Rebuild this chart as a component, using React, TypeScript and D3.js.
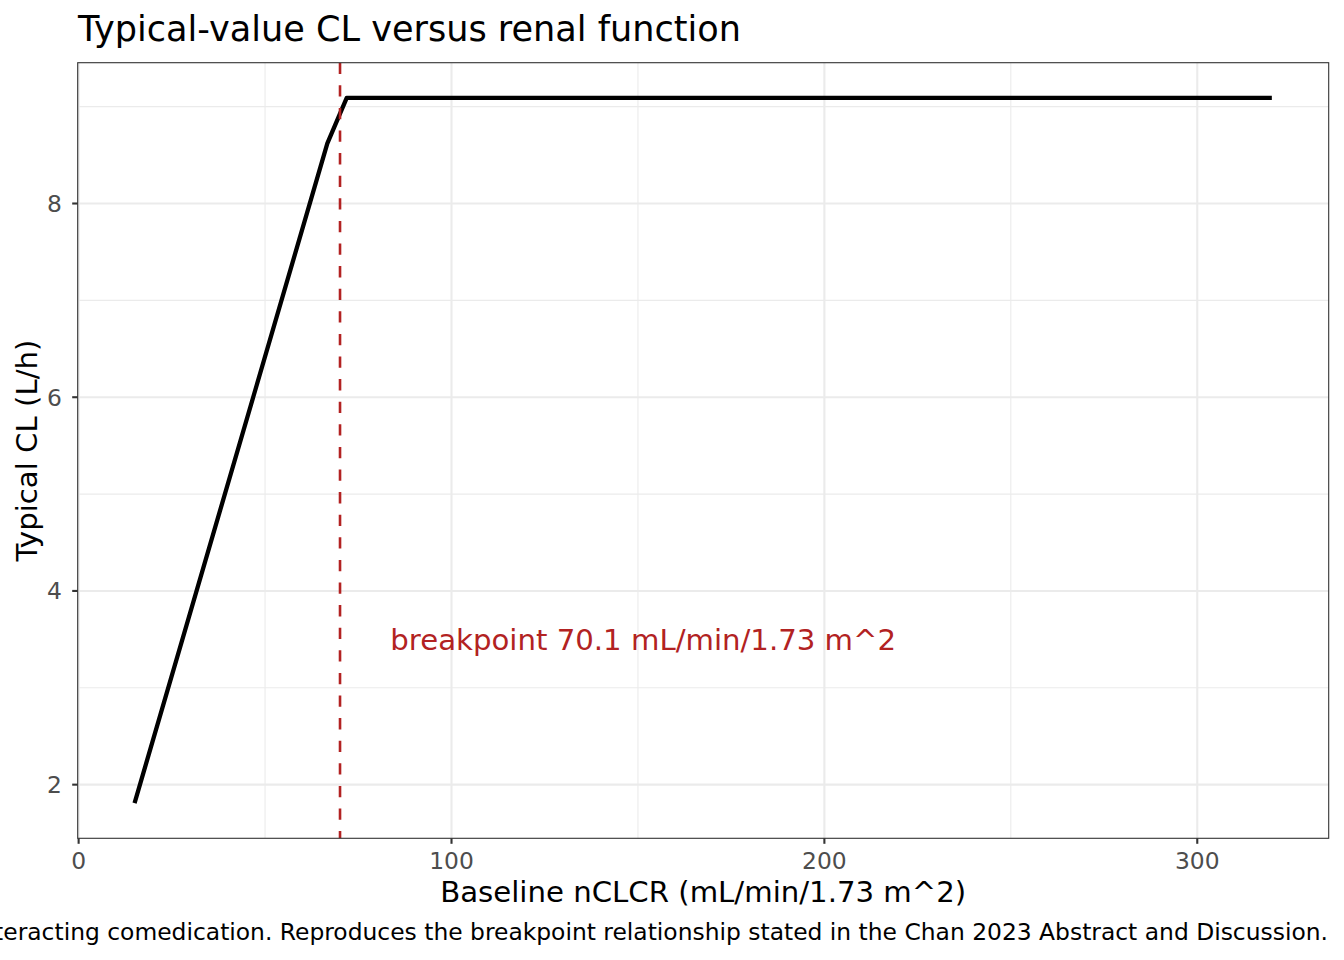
import React from "react";
import * as d3 from "d3";

const clcr = [15, 66.7, 71.9, 320];
const typicalCL = [1.81, 8.62, 9.09, 9.09];
const breakpoint = 70.1;
const xTicks = [0, 100, 200, 300];
const xMinor = [50, 150, 250];
const yTicks = [2, 4, 6, 8];
const yMinor = [3, 5, 7, 9];
const titleText = "Typical-value CL versus renal function";
const xTitle = "Baseline nCLCR (mL/min/1.73 m^2)";
const yTitle = "Typical CL (L/h)";
const annotText = "breakpoint 70.1 mL/min/1.73 m^2";
const annotX = 83.6;
const annotY = 3.5;
const captionText =
  "Typical-value CL for a subject with no interacting comedication. Reproduces the breakpoint relationship stated in the Chan 2023 Abstract and Discussion.";

const W = 1344;
const H = 960;
const left = 77.7;
const right = 1328.7;
const top = 62.7;
const bottom = 838.3;
const font = "DejaVu Sans, sans-serif";

export default function App() {
  const x = d3.scaleLinear().domain([-0.25, 335.25]).range([left, right]);
  const y = d3.scaleLinear().domain([1.4461, 9.4538]).range([bottom, top]);
  const pts = clcr.map((c, i) => [c, typicalCL[i]] as [number, number]);
  const line = d3
    .line<[number, number]>()
    .x((d) => x(d[0]))
    .y((d) => y(d[1]));

  return (
    <svg
      width={W}
      height={H}
      style={{ position: "absolute", left: 0, top: 0, background: "#fff" }}
      fontFamily={font}
    >
      <rect x={0} y={0} width={W} height={H} fill="#fff" />
      <defs>
        <clipPath id="panel">
          <rect x={left} y={top} width={right - left} height={bottom - top} />
        </clipPath>
      </defs>
      {xMinor.map((t) => (
        <line key={"xm" + t} x1={x(t)} x2={x(t)} y1={top} y2={bottom} stroke="#EBEBEB" strokeWidth={1.1} />
      ))}
      {yMinor.map((t) => (
        <line key={"ym" + t} x1={left} x2={right} y1={y(t)} y2={y(t)} stroke="#EBEBEB" strokeWidth={1.1} />
      ))}
      {xTicks.map((t) => (
        <line key={"xg" + t} x1={x(t)} x2={x(t)} y1={top} y2={bottom} stroke="#EBEBEB" strokeWidth={2.1} />
      ))}
      {yTicks.map((t) => (
        <line key={"yg" + t} x1={left} x2={right} y1={y(t)} y2={y(t)} stroke="#EBEBEB" strokeWidth={2.1} />
      ))}
      <g clipPath="url(#panel)">
        <path d={line(pts) || ""} fill="none" stroke="#000" strokeWidth={4.3} strokeLinejoin="round" />
        <line
          x1={x(breakpoint)}
          x2={x(breakpoint)}
          y1={top}
          y2={bottom}
          stroke="#B22222"
          strokeWidth={2.6}
          strokeDasharray="11.3 11.3"
        />
        <text x={x(annotX)} y={y(annotY)} dy="0.36em" fill="#B22222" fontSize={29.2}>
          {annotText}
        </text>
      </g>
      <rect x={left} y={top} width={right - left} height={bottom - top} fill="none" stroke="#333333" strokeWidth={1.1} />
      {xTicks.map((t) => (
        <g key={"xt" + t}>
          <line x1={x(t)} x2={x(t)} y1={bottom} y2={bottom + 5.5} stroke="#333333" strokeWidth={2.1} />
          <text x={x(t)} y={869} textAnchor="middle" fill="#4D4D4D" fontSize={23.4}>
            {t}
          </text>
        </g>
      ))}
      {yTicks.map((t) => (
        <g key={"yt" + t}>
          <line x1={left - 5.5} x2={left} y1={y(t)} y2={y(t)} stroke="#333333" strokeWidth={2.1} />
          <text x={62} y={y(t)} dy="0.36em" textAnchor="end" fill="#4D4D4D" fontSize={23.4}>
            {t}
          </text>
        </g>
      ))}
      <text x={(left + right) / 2} y={902} textAnchor="middle" fill="#000" fontSize={29.2}>
        {xTitle}
      </text>
      <text
        transform={`translate(37,${(top + bottom) / 2}) rotate(-90)`}
        textAnchor="middle"
        fill="#000"
        fontSize={29.2}
      >
        {yTitle}
      </text>
      <text x={78} y={41} fill="#000" fontSize={35.1}>
        {titleText}
      </text>
      <text x={1328} y={940} textAnchor="end" fill="#000" fontSize={23.4}>
        {captionText}
      </text>
    </svg>
  );
}
